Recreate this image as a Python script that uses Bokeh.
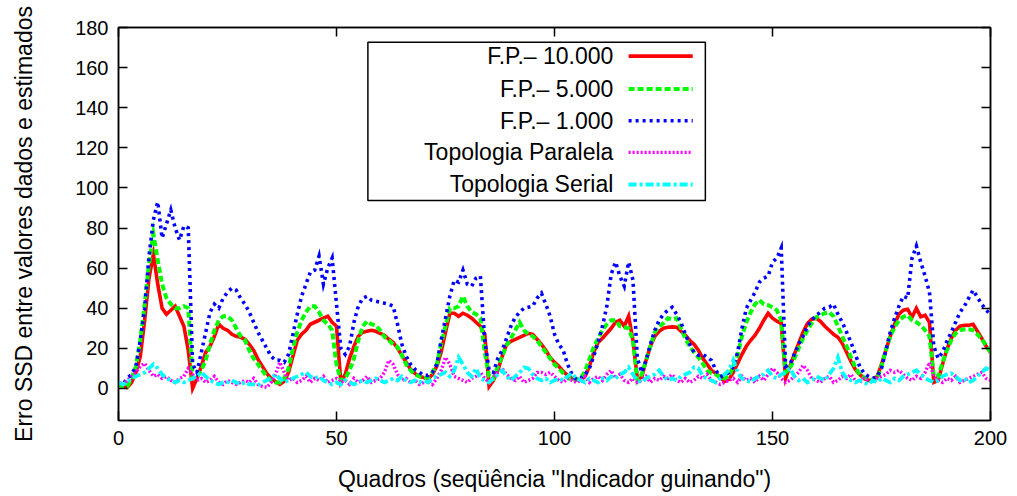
from bokeh.plotting import figure
from bokeh.models import (Range1d, FixedTicker, LinearAxis, BoxAnnotation, Label,
                          CustomJSTickFormatter)
from bokeh.embed import file_html
from bokeh.resources import INLINE

frames = list(range(201))

fp_10000 = [
    2, 1, 0.5, 3, 8, 16, 34, 55, 67, 52,
    40, 37, 39, 41, 36, 31, 19, 0, 5, 11,
    18, 21, 26, 32, 30, 29, 27, 26, 25.5, 24.5,
    22, 19, 14.5, 11, 7.5, 5, 3.5, 2, 3.5, 8,
    16, 24, 27, 29, 32, 33, 34, 35, 36, 33,
    31, 3, 7, 15, 21, 26, 28, 28.5, 29, 28.5,
    27.5, 26.5, 24.5, 23, 20, 16.5, 13, 9.5, 7.5, 6,
    5.5, 4.5, 7, 11, 18, 28, 37.5, 37.5, 36, 37.5,
    36.5, 35, 33, 31, 27, 1, 4, 9, 16, 22,
    23.5, 24.5, 25.5, 26.5, 27.5, 27, 24.5, 22, 19, 15.5,
    13, 11, 8.5, 6.5, 5, 4.5, 4, 6, 11, 18,
    23, 25, 27.5, 30, 33, 34, 31, 36, 24, 5,
    5.5, 14, 21, 26, 28.5, 30, 30.5, 30.7, 30.5, 28.5,
    26.5, 24, 22, 19, 15, 12, 9, 7.5, 5.5, 3.5,
    4.5, 8, 12.5, 17, 21, 24, 26.5, 30, 34, 37.5,
    35, 33.5, 32.5, 5, 11, 17, 22.5, 28, 32.3, 34.5,
    35, 33.5, 31, 29, 27, 25.5, 22.5, 18, 13.5, 9.5,
    7, 5, 4, 4, 6, 12, 19, 26, 32, 37,
    39, 39.5, 35.5, 40, 35.7, 36.5, 33, 3, 4, 12,
    19.5, 25, 29, 31, 31.5, 31.5, 32, 28.5, 25, 21,
    18,
]

fp_5000 = [
    2, 1, 1, 5, 11, 24, 42, 62, 77, 64,
    52, 45, 42, 40, 40, 41, 40, 5, 6, 9,
    14, 22, 29, 34, 36, 36, 34, 30, 26, 24,
    19, 15, 12, 9, 6, 4, 3, 3, 5, 10,
    20, 28, 34, 38, 41, 41, 38, 34, 32, 29,
    12, 4, 5, 9, 15, 24, 31, 33.5, 32, 31.5,
    29, 25.7, 24, 22, 20.7, 16.5, 12, 9, 7, 6,
    5, 5.5, 8, 12, 22, 31, 40, 40, 41, 46,
    41, 38, 37, 35, 18, 6, 5, 11, 16, 21.5,
    25, 29, 33, 29, 27, 26, 24, 21, 18, 15,
    12, 10, 7.5, 5.5, 4, 4.5, 5, 8.5, 14.5, 20.5,
    25, 29, 32, 34, 34, 31, 30.5, 30, 24, 4,
    7, 14, 21, 28, 31, 32.5, 35, 34.5, 35, 30,
    25, 21, 18, 15.5, 12.5, 9, 7.5, 7, 5.5, 5,
    6, 11, 16.5, 26, 33, 38, 42, 44, 42, 41.5,
    40.5, 39, 34, 8, 10, 15, 20, 25, 29, 32.5,
    35.5, 36.5, 37.5, 38, 36, 31, 26, 21, 15.5, 10.5,
    7, 5.5, 5, 4, 5, 11, 19, 26, 30.5, 34,
    35.7, 36.5, 34, 33, 31.5, 29, 26, 6, 6, 13,
    19, 24, 27.5, 29, 29.5, 29.5, 29, 27, 24.5, 21.5,
    18,
]

fp_1000 = [
    3, 2, 5, 7, 11, 24, 40, 66, 84, 93,
    75, 82, 89, 80, 74, 81, 80, 12, 8, 18,
    28, 38, 42, 40, 45, 48, 50, 49, 45, 42,
    38, 33, 28, 24, 20, 16, 14, 14, 13, 17,
    27, 37, 46, 52, 58, 59, 66, 52, 60, 65,
    42, 20, 17, 21, 33, 41, 45, 46, 44, 43.5,
    43, 42.5, 42, 41, 32, 22, 16, 12, 9.5, 8,
    6.5, 6.5, 8, 12, 24, 35, 46, 54, 53, 59,
    52, 51, 55, 56, 24, 9, 8, 15, 19, 25,
    31, 35.5, 38, 40, 40.5, 41, 45, 47.5, 42, 36,
    27, 22, 19, 12, 7, 4.5, 5, 7, 10, 16,
    23, 31, 41, 57, 63, 56, 51, 63, 54, 15,
    8, 14, 22, 29, 34, 37, 39, 40.5, 37, 33,
    27, 22, 18, 16.5, 17, 15.5, 14, 9, 6, 6.5,
    8, 11, 18, 30, 40, 44, 48, 53, 55, 56,
    63, 65, 70, 11, 12, 17, 22, 26, 31, 34,
    36.5, 38, 40, 40.5, 42, 37, 33, 28, 23, 17,
    11, 7.5, 6, 5, 6, 10, 19, 28, 35, 41,
    46, 45, 65, 71, 63, 56, 48, 21, 15, 18,
    23.5, 28, 33, 38, 41, 45, 49, 45.5, 42, 39,
    37,
]

topo_paralela = [
    3, 2, 4, 6, 8, 11, 12.5, 9, 6, 7,
    5, 6, 4, 3, 5, 6, 10, 7, 4, 5,
    3, 4, 6, 3, 2, 4, 3, 2, 3, 4,
    3, 5, 2, 1, 0.5, 3, 7, 13, 8, 4,
    5, 3, 4, 6, 3, 5, 4, 6, 3, 4,
    5, 3, 4, 2, 5, 3, 4, 6, 3, 4,
    5, 8, 14, 12, 7, 4, 5, 3, 4, 2,
    3, 4, 2, 5, 9, 15.5, 12, 6, 5, 4,
    3, 5, 6, 8, 5, 3, 6, 8, 10, 7,
    5, 4, 6, 3, 4, 5, 8, 8, 7, 8,
    6, 4, 3, 5, 4, 3, 4, 6, 3, 5,
    6, 4, 7, 9, 5, 7, 4, 3, 5, 3,
    4, 6, 3, 5, 4, 6, 5, 7, 4, 3,
    5, 3, 4, 6, 5, 7, 4, 3, 2, 3,
    4, 5, 3, 6, 4, 5, 3, 6, 4, 7,
    10, 8, 5, 3, 4, 6, 8, 11.5, 9, 5,
    4, 3, 5, 6, 3, 4, 6, 5, 7, 4,
    3, 5, 4, 3, 5, 6, 7, 9, 8, 9,
    7, 5, 4, 6, 5, 8, 13, 6, 4, 3,
    5, 4, 6, 3, 4, 5, 6, 7, 8, 5,
    4,
]

topo_serial = [
    3, 2, 3, 5, 6, 7, 8, 10, 12, 10,
    7, 5, 4, 3, 4, 3, 4, 5, 6, 8,
    6, 4, 3, 2, 3, 3, 4, 3, 2, 3,
    2, 2, 1.5, 3, 4, 5, 7, 5, 3, 4,
    5, 6, 7, 8, 6, 5, 6, 4, 3, 2,
    3, 2, 4, 3, 2, 3, 4, 3, 4, 5,
    4, 3, 4, 5, 4, 6, 4, 3, 4, 3,
    4, 3, 5, 6, 7, 8, 6, 9, 15.5, 12,
    8, 6, 10, 5, 4, 3, 5, 7, 9, 6,
    4, 6, 8, 10.5, 10, 7, 5, 4, 5, 3,
    4, 5, 4, 6, 7.5, 5, 4, 3, 5, 4,
    3, 5, 4, 6, 5, 7, 8, 10.5, 7, 4,
    3, 5, 6, 7, 9, 6, 4, 5, 4, 6,
    7, 8, 10.5, 10, 6, 5, 4, 3, 5, 7,
    9, 14, 8, 5, 4, 3, 5, 6, 7, 9,
    6, 5, 7, 8, 10, 6, 4, 5, 3, 4,
    6, 5, 4, 7, 10, 15.5, 8, 5, 4, 3,
    4, 3, 2, 4, 3, 5, 4, 3, 5, 4,
    6, 7, 8, 9, 7, 5, 4, 3, 4, 6,
    7, 7.5, 6, 4, 5, 3, 4, 6, 8, 10,
    9,
]

series_labels = ["F.P.\u2013 10.000", "F.P.\u2013 5.000", "F.P.\u2013 1.000",
                 "Topologia Paralela", "Topologia Serial"]
x_ticks = [0, 50, 100, 150, 200]
y_ticks = [0, 20, 40, 60, 80, 100, 120, 140, 160, 180]
x_label = "Quadros (seq\u00fc\u00eancia \"Indicador guinando\")"
y_label = "Erro SSD entre valores dados e estimados"

FONT = "Liberation Sans"
TICK_FS = "20px"
LABEL_FS = "23px"

p = figure(width=1017, height=496, output_backend="svg", toolbar_location=None,
           x_range=Range1d(0, 200), y_range=Range1d(-16, 180),
           min_border_left=118, min_border_right=27, min_border_top=27,
           min_border_bottom=76)
p.xgrid.visible = False
p.ygrid.visible = False
p.outline_line_color = "black"
p.outline_line_width = 1.5
p.background_fill_color = "white"
p.border_fill_color = "white"

def style_axis(ax, show_labels):
    ax.major_tick_in = 9
    ax.major_tick_out = 0
    ax.minor_tick_line_color = None
    ax.axis_line_color = "black"
    ax.axis_line_width = 1.5
    ax.major_tick_line_width = 1.5
    ax.major_label_text_font = FONT
    if show_labels:
        ax.major_label_text_color = "black"
        ax.major_label_text_font_size = TICK_FS
        ax.major_label_standoff = 10
    else:
        ax.formatter = CustomJSTickFormatter(code="return '';")
        ax.major_label_text_color = None
        ax.major_label_standoff = 0

p.xaxis.ticker = FixedTicker(ticks=x_ticks)
p.yaxis.ticker = FixedTicker(ticks=y_ticks)
style_axis(p.xaxis[0], True)
style_axis(p.yaxis[0], True)
p.xaxis.axis_label = x_label
p.yaxis.axis_label = y_label
for ax in (p.xaxis[0], p.yaxis[0]):
    ax.axis_label_text_font = FONT
    ax.axis_label_text_font_size = LABEL_FS
    ax.axis_label_text_font_style = "normal"
    ax.axis_label_text_color = "black"
p.xaxis.axis_label_standoff = 18
p.yaxis.axis_label_standoff = 35

top_ax = LinearAxis(ticker=FixedTicker(ticks=x_ticks))
right_ax = LinearAxis(ticker=FixedTicker(ticks=y_ticks))
style_axis(top_ax, False)
style_axis(right_ax, False)
p.add_layout(top_ax, "above")
p.add_layout(right_ax, "right")

styles = [
    dict(line_color="#ff0000", line_width=3.6),
    dict(line_color="#00ff00", line_width=4, line_dash="6 3"),
    dict(line_color="#0000ff", line_width=3.6, line_dash="3 4"),
    dict(line_color="#ff00ff", line_width=3.4, line_dash="2 2"),
    dict(line_color="#00ffff", line_width=3.8, line_dash="8 3 3 3"),
]
data = [fp_10000, fp_5000, fp_1000, topo_paralela, topo_serial]
for vals, st in zip(data, styles):
    p.line(frames, vals, line_join="miter", **st)

# legend (box at top centre, text right-aligned, sample on the right)
leg_left, leg_right, leg_top, leg_bottom = 57.2, 134.6, 172.7, 93.7
leg_text_x = 113.5
leg_line_x = [117.0, 131.7]
leg_rows = [165.7, 149.3, 133.5, 117.7, 101.7]
p.add_layout(BoxAnnotation(left=leg_left, right=leg_right, top=leg_top,
                           bottom=leg_bottom, fill_color="white", fill_alpha=1.0,
                           line_color="black", line_alpha=1.0, line_width=1.5,
                           level="underlay"))
for lab, st, yy in zip(series_labels, styles, leg_rows):
    p.add_layout(Label(x=leg_text_x, y=yy, text=lab, text_align="right",
                       text_baseline="middle", text_font=FONT,
                       text_font_size=LABEL_FS, text_color="black"))
    p.line(leg_line_x, [yy, yy], **st)

open("out.html", "w").write(file_html(p, INLINE))
